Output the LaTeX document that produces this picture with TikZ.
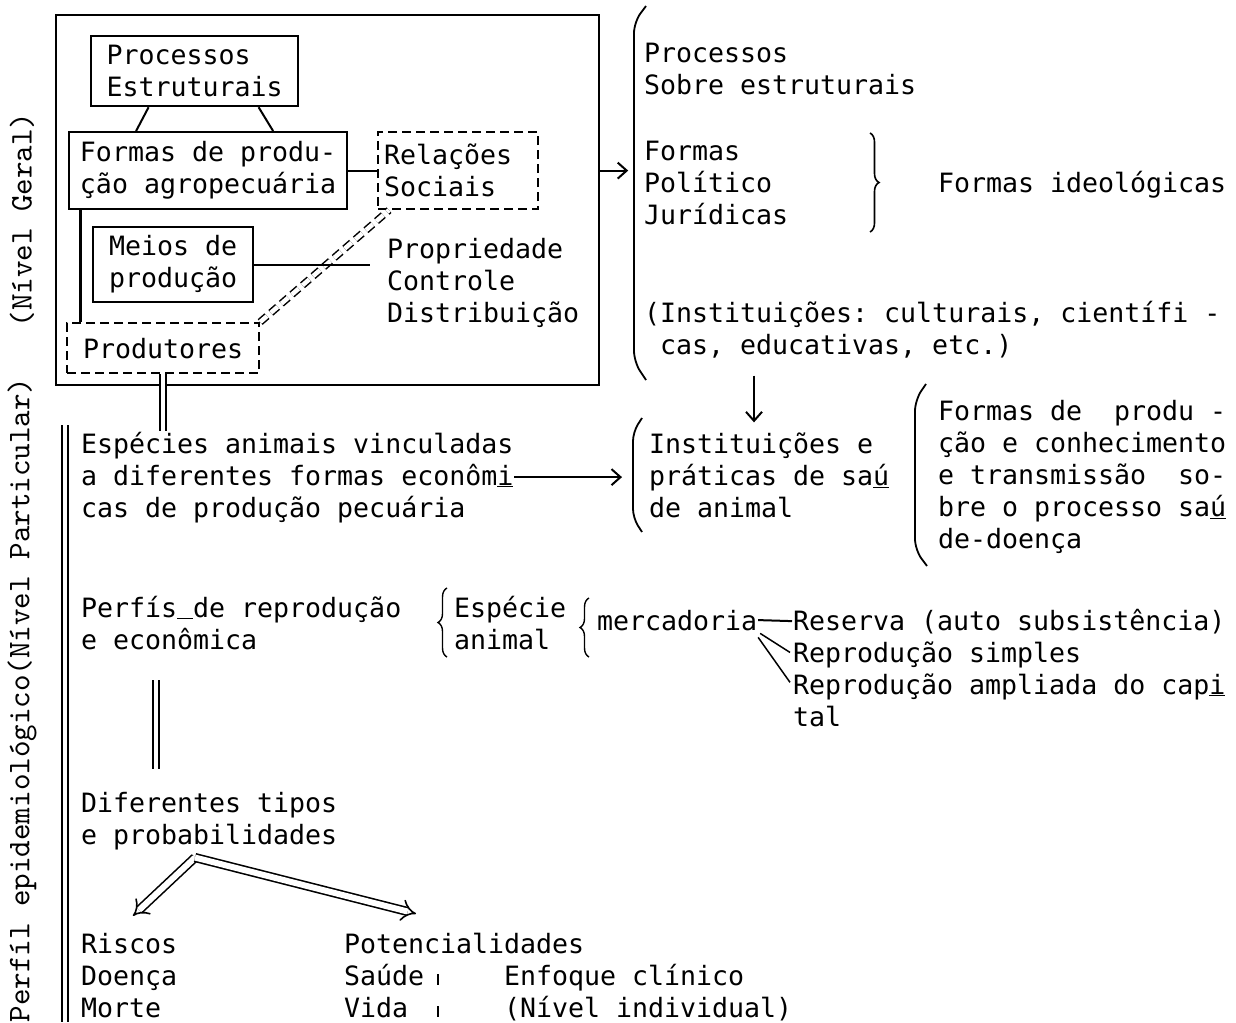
\documentclass[tikz,border=0pt]{standalone}
\usepackage{fontspec}
\setmonofont{DejaVu Sans Mono}
\newfontfamily\datil{lmmono10-regular.otf}
\usetikzlibrary{arrows.meta,calc,decorations.pathreplacing}

\tikzset{
	texto/.style={anchor=base west, inner sep=0pt, align=left, font=\fontsize{26.6}{32}\selectfont\ttfamily},
	caixa/.style={draw, line width=2.2pt, anchor=north west, inner sep=0pt, align=left, font=\fontsize{26.6}{32}\selectfont\ttfamily},
	tracos/.style={dash pattern=on 9pt off 5pt},
	rotulo/.style={rotate=90, inner sep=0pt, font=\datil\fontsize{31.5}{32}\selectfont},
	seta/.style={line width=2pt, -{Straight Barb[length=9pt,width=16pt,line width=2pt]}},
	duplo/.style={double, double distance=4.5pt, line width=1.8pt},
	colchete/.style={line width=1.8pt, rounded corners=11pt},
	chave/.style={line width=1.6pt, decorate, decoration={brace, amplitude=9pt}}
}

\begin{document}
\begin{tikzpicture}[x=1pt,y=-1pt,line width=2pt] % pixels, y vers le bas

\useasboundingbox (0,0) rectangle (1236,1022);

% niveau général
\node[caixa, minimum width=543pt, minimum height=370pt] (geral) at (55,14) {};
\node[caixa, minimum width=207pt, minimum height=70pt] (proc) at (90,35) {Processos\\Estruturais};
\node[caixa, minimum width=278pt, minimum height=77pt] (formas) at (68,131) {Formas de produ-\\ção agropecuária};
\node[caixa, tracos, text width=148pt, inner xsep=6pt, minimum height=77pt] (relacoes) at (377,131) {Relações\\Sociais};
\node[caixa, minimum width=160pt, minimum height=75pt] (meios) at (92,226) {Meios de\\produção};
\node[caixa, tracos, minimum width=192pt, minimum height=50pt] (produtores) at (66,322) {Produtores};
\node[texto] (prop) at (386,322) {Propriedade\\Controle\\Distribuição}; % base = derniere ligne

\draw[duplo, tracos, line width=1.5pt] (produtores.north east) -- ($(relacoes.south west)+(12,0)$);
\draw ($(proc.south)+(-46,0)$) -- ($(formas.north)+(-72,0)$);
\draw ($(proc.south)+(64,0)$) -- ($(formas.north)+(65,0)$);
\draw (formas.east) -- (relacoes.west);
\draw[shorten >=16pt] (meios.east) -- (meios.east -| prop.west);
\draw[line width=3pt] ($(formas.south west)+(12,0)$) coordinate (c0) -- (c0 |- produtores.north);

% colonne de droite
\node[texto] (rcproc) at (643,95) {Processos\\Sobre estruturais};
\node[texto] (rcformas) at (643,224) {Formas\\Político\\Jurídicas};
\node[texto] (ideol) at (937,192) {Formas ideológicas};
\node[texto] (instit) at (643,354) {(Instituições: culturais, científi -\\~cas, educativas, etc.)};
\draw[colchete] (646,6) -- (634,22) -- (634,362) -- (646,380);
\draw[chave] (870,133) -- (870,232);
\draw[seta] (formas.east -| geral.east) -- ++(28,0);

% niveau particulier
\node[texto] (especies) at (80,517) {Espécies animais vinculadas\\a diferentes formas econôm\underline{i}\\cas de produção pecuária};
\node[texto] (instsaude) at (648,517) {Instituições e\\práticas de sa\underline{ú}\\de animal};
\node[texto] (formprod) at (937,548) {Formas de~~produ -\\ção e conhecimento\\e transmissão~~so-\\bre o processo sa\underline{ú}\\de-doença};
\draw[colchete, rounded corners=9pt] (642,418) -- (633,432) -- (633,518) -- (642,532);
\draw[colchete] (926,384) -- (915,400) -- (915,550) -- (927,566);
\draw[duplo] (produtores.south) -- (produtores.south |- especies.north);
\draw[seta] (especies.east) -- ($(especies.east -| instsaude.west)+(-26,0)$);
\draw[seta] ($(instit.south west)+(111,17)$) coordinate (c1) -- (c1 |- instsaude.north) [shorten >=9pt];

\node[texto] (perfis) at (80,649) {Perfís\underline{~}de reprodução\\e econômica};
\node[texto] (especie) at (453,649) {Espécie\\animal};
\node[texto] (merc) at (596,630) {mercadoria};
\node[texto] (reserva) at (792,630) {Reserva (auto subsistência)};
\node[texto] (simples) at (792,662) {Reprodução simples};
\node[texto] (ampliada) at (792,726) {Reprodução ampliada do cap\underline{i}\\tal};
\draw[chave, line width=1.4pt] (447,657) -- (447,588);
\draw[chave, line width=1.4pt] (589,657) -- (589,598);
\draw (merc.east) -- (reserva.west);
\draw[line width=1.5pt] ($(merc.south east)+(2,2)$) -- ($(simples.west)+(-2,-2)$);
\draw[line width=1.5pt] ($(merc.south east)+(0,6)$) -- ($(ampliada.north west)+(-2,10)$);

\node[texto] (diferentes) at (80,844) {Diferentes tipos\\e probabilidades};
\node[texto] (riscos) at (80,1017) {Riscos\\Doença\\Morte};
\node[texto] (potenc) at (343,1017) {Potencialidades\\Saúde\\Vida};
\node[texto] (enfoque) at (503,1017) {Enfoque clínico\\(Nível individual)};
\draw[duplo] ($(perfis.south west)+(76,30)$) -- ($(diferentes.north west)+(76,-22)$);
\coordinate (vertice) at ($(diferentes.south west)+(115,7)$);
\draw[duplo, double distance=6pt, line width=1.6pt, -{Implies[scale=1.8]}] (vertice) -- ($(riscos.north west)+(53,-16)$);
\draw[duplo, double distance=6pt, line width=1.6pt, -{Implies[scale=1.8]}] (vertice) -- ($(potenc.north west)+(73,-18)$);

\foreach \y in {974,1006} % petits traits
{
	\draw[line width=1.5pt] (438,\y) -- (438,\y+11);
}

% marge gauche
\draw[duplo] (65,425) -- (65,1022);
\node[rotulo] (rgeral) at (22,220) {(Nível Geral)};
\node[rotulo] (rpart) at (22,700) {Perfíl epidemiológico(Nível Particular)};

\end{tikzpicture}
\end{document}
